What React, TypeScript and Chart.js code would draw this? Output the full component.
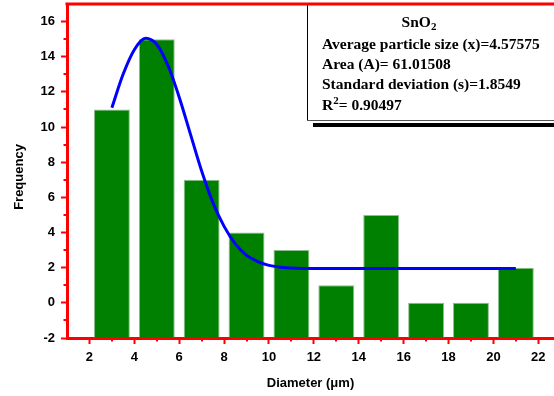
import React, { useEffect, useRef } from "react";
import { Chart, registerables } from "chart.js";

Chart.register(...registerables);

// ---- data ----
const diameters = [3, 5, 7, 9, 11, 13, 15, 17, 19, 21];
const frequencies = [11, 15, 7, 4, 3, 1, 5, 0, 0, 2];

// Gaussian fit curve
const fitX = [3, 3.5, 4, 4.5, 5, 5.5, 6, 6.5, 7, 7.5, 8, 8.5, 9, 9.5, 10, 10.5, 11, 12, 14, 16, 18, 21];
const fitY = [11.1, 13.0, 14.4, 15.05, 14.7, 13.5, 11.7, 9.6, 7.5, 5.7, 4.35, 3.35, 2.7, 2.35, 2.13, 2.03, 1.98, 1.95, 1.95, 1.95, 1.95, 1.95];

const xTickValues = [2, 4, 6, 8, 10, 12, 14, 16, 18, 20, 22];
const xMinorTickValues = [3, 5, 7, 9, 11, 13, 15, 17, 19, 21];
const yTickValues = [-2, 0, 2, 4, 6, 8, 10, 12, 14, 16];
const yMinorTickValues = [-1, 1, 3, 5, 7, 9, 11, 13, 15];

const xAxisTitle = "Diameter (\u03BCm)";
const yAxisTitle = "Frequency";

const infoTitle = "SnO";
const infoTitleSub = "2";
const infoLines = [
  "Average particle size (x)=4.57575",
  "Area (A)= 61.01508",
  "Standard deviation (s)=1.8549",
];
const r2Label = "R";
const r2Sup = "2";
const r2Value = "= 0.90497";

const SANS = '"Liberation Sans", Arial, sans-serif';
const SERIF = '"Liberation Serif", "Times New Roman", serif';

const decorPlugin = {
  id: "decor",
  afterDatasetsDraw(chart: any) {
    const { ctx, chartArea, scales } = chart;
    const xs = scales.x;
    const ys = scales.y;
    ctx.save();

    // minor ticks
    ctx.strokeStyle = "#ff0000";
    ctx.lineWidth = 2;
    xMinorTickValues.forEach((v) => {
      const px = Math.round(xs.getPixelForValue(v));
      ctx.beginPath();
      ctx.moveTo(px, chartArea.bottom);
      ctx.lineTo(px, chartArea.bottom + 3.5);
      ctx.stroke();
    });
    yMinorTickValues.forEach((v) => {
      const py = Math.round(ys.getPixelForValue(v));
      ctx.beginPath();
      ctx.moveTo(chartArea.left - 3.5, py);
      ctx.lineTo(chartArea.left, py);
      ctx.stroke();
    });

    // info box
    const bx = 307;
    const by = chartArea.top;
    const bb = 120;
    ctx.fillStyle = "#ffffff";
    ctx.fillRect(bx, by, chart.width - bx + 10, bb - by);
    ctx.fillStyle = "#000000";
    ctx.fillRect(313, 123, chart.width - 313, 4);
    ctx.strokeStyle = "#000000";
    ctx.lineWidth = 1;
    ctx.beginPath();
    ctx.moveTo(bx + 0.5, by);
    ctx.lineTo(bx + 0.5, bb + 0.5);
    ctx.stroke();
    ctx.strokeStyle = "#555555";
    ctx.beginPath();
    ctx.moveTo(bx, bb + 0.5);
    ctx.lineTo(chart.width, bb + 0.5);
    ctx.stroke();

    ctx.fillStyle = "#000000";
    ctx.textBaseline = "alphabetic";
    ctx.textAlign = "left";
    const big = `bold 15.5px ${SERIF}`;
    const small = `bold 11px ${SERIF}`;

    // title SnO2
    ctx.font = big;
    const w1 = ctx.measureText(infoTitle).width;
    ctx.font = small;
    const w2 = ctx.measureText(infoTitleSub).width;
    const tx = 419 - (w1 + w2) / 2;
    ctx.font = big;
    ctx.fillText(infoTitle, tx, 27);
    ctx.font = small;
    ctx.fillText(infoTitleSub, tx + w1, 30);

    ctx.font = big;
    const lx = 322;
    const baselines = [49, 68.5, 88.5];
    infoLines.forEach((t, i) => ctx.fillText(t, lx, baselines[i]));

    // R^2 line
    ctx.font = big;
    ctx.fillText(r2Label, lx, 110);
    const rw = ctx.measureText(r2Label).width;
    ctx.font = small;
    ctx.fillText(r2Sup, lx + rw, 104);
    const sw = ctx.measureText(r2Sup).width;
    ctx.font = big;
    ctx.fillText(r2Value, lx + rw + sw, 110);

    // top frame line
    ctx.strokeStyle = "#ff0000";
    ctx.lineWidth = 3;
    ctx.beginPath();
    ctx.moveTo(chartArea.left - 1.5, chartArea.top);
    ctx.lineTo(chart.width, chartArea.top);
    ctx.stroke();

    // y axis title
    ctx.save();
    ctx.font = `bold 13px ${SANS}`;
    ctx.textAlign = "center";
    ctx.textBaseline = "middle";
    ctx.translate(19, 177);
    ctx.rotate(-Math.PI / 2);
    ctx.fillText(yAxisTitle, 0, 0);
    ctx.restore();

    ctx.restore();
  },
};

export default function App() {
  const canvasRef = useRef<HTMLCanvasElement | null>(null);

  useEffect(() => {
    document.body.style.margin = "0";
    const canvas = canvasRef.current;
    if (!canvas) return;

    const chart = new Chart(canvas, {
      type: "bar",
      data: {
        datasets: [
          {
            type: "line",
            label: "Fit",
            data: fitX.map((x, i) => ({ x, y: fitY[i] })),
            borderColor: "#0000ff",
            borderWidth: 3,
            pointRadius: 0,
            fill: false,
            cubicInterpolationMode: "monotone",
            order: 0,
          } as any,
          {
            type: "bar",
            label: "Frequency",
            data: diameters.map((x, i) => ({ x, y: frequencies[i] })),
            base: -2,
            backgroundColor: "#008000",
            borderColor: "#8fbf8f",
            borderWidth: 1,
            borderSkipped: "bottom",
            categoryPercentage: 1,
            barPercentage: 0.8,
            order: 1,
          } as any,
        ],
      },
      options: {
        animation: false,
        responsive: false,
        devicePixelRatio: 1,
        layout: { padding: { top: 4, right: 0, left: 0, bottom: 0 } },
        plugins: {
          legend: { display: false },
          tooltip: { enabled: false },
          title: { display: false },
        },
        scales: {
          x: {
            type: "linear",
            min: 1,
            max: 22.7,
            offset: false,
            afterBuildTicks: (scale: any) => {
              scale.ticks = xTickValues.map((v) => ({ value: v }));
            },
            afterFit: (scale: any) => {
              scale.height = 58;
              scale.paddingLeft = 0;
              scale.paddingRight = 0;
            },
            grid: {
              drawOnChartArea: false,
              drawTicks: true,
              tickLength: 6,
              tickColor: "#ff0000",
              tickWidth: 2,
              offset: false,
            },
            border: { display: true, color: "#ff0000", width: 3 },
            ticks: {
              color: "#000000",
              font: { family: SANS, size: 13, weight: "bold" },
              padding: 6,
              maxRotation: 0,
              autoSkip: false,
            },
            title: {
              display: true,
              text: xAxisTitle,
              color: "#000000",
              font: { family: SANS, size: 13, weight: "bold" },
              padding: { top: 0, bottom: 5 },
            },
          },
          y: {
            type: "linear",
            min: -2,
            max: 17,
            afterBuildTicks: (scale: any) => {
              scale.ticks = yTickValues.map((v) => ({ value: v }));
            },
            afterFit: (scale: any) => {
              scale.width = 67;
              scale.paddingTop = 0;
              scale.paddingBottom = 0;
            },
            grid: {
              drawOnChartArea: false,
              drawTicks: true,
              tickLength: 6,
              tickColor: "#ff0000",
              tickWidth: 2,
            },
            border: { display: true, color: "#ff0000", width: 3 },
            ticks: {
              color: "#000000",
              font: { family: SANS, size: 13, weight: "bold" },
              padding: 6,
              autoSkip: false,
            },
          },
        },
      } as any,
      plugins: [decorPlugin],
    });

    return () => {
      chart.destroy();
    };
  }, []);

  return (
    <div style={{ width: 554, height: 396, position: "relative", background: "#ffffff" }}>
      <canvas ref={canvasRef} width={554} height={396} style={{ display: "block" }} />
    </div>
  );
}
